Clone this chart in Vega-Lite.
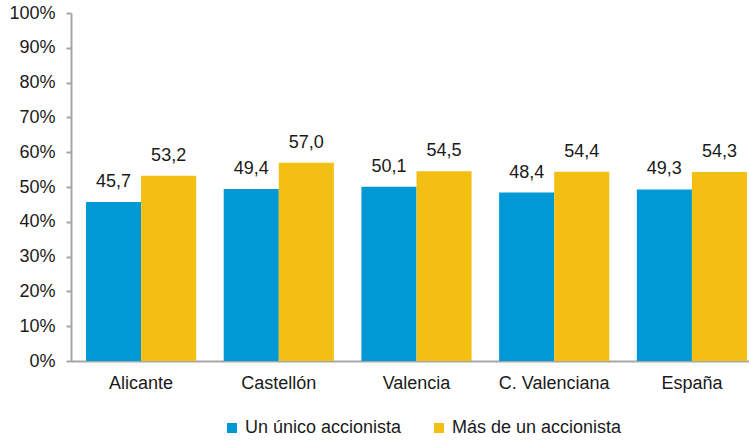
{
  "$schema": "https://vega.github.io/schema/vega-lite/v6.json",
  "width": 678,
  "height": 348,
  "autosize": {"type": "none"},
  "padding": {"left": 71, "top": 13, "right": 0, "bottom": 80},
  "config": {
    "locale": {"number": {"decimal": ",", "thousands": ".", "grouping": [3], "currency": ["", " €"]}},
    "view": {"stroke": null},
    "font": "Liberation Sans"
  },
  "data": {
    "values": [
      {"region": "Alicante", "tipo": "Un único accionista", "valor": 45.7},
      {"region": "Alicante", "tipo": "Más de un accionista", "valor": 53.2},
      {"region": "Castellón", "tipo": "Un único accionista", "valor": 49.4},
      {"region": "Castellón", "tipo": "Más de un accionista", "valor": 57.0},
      {"region": "Valencia", "tipo": "Un único accionista", "valor": 50.1},
      {"region": "Valencia", "tipo": "Más de un accionista", "valor": 54.5},
      {"region": "C. Valenciana", "tipo": "Un único accionista", "valor": 48.4},
      {"region": "C. Valenciana", "tipo": "Más de un accionista", "valor": 54.4},
      {"region": "España", "tipo": "Un único accionista", "valor": 49.3},
      {"region": "España", "tipo": "Más de un accionista", "valor": 54.3}
    ]
  },
  "encoding": {
    "x": {
      "field": "region", "type": "nominal", "sort": null,
      "scale": {"paddingInner": 0.2, "paddingOuter": 0.109, "range": [0, 691]},
      "axis": {"title": null, "labelAngle": 0, "ticks": false, "domainColor": "#A6A6A6", "domainWidth": 2,
               "labelFontSize": 18, "labelColor": "#1a1a1a", "labelPadding": 13}
    },
    "xOffset": {"field": "tipo", "type": "nominal", "sort": ["Un único accionista", "Más de un accionista"], "scale": {"paddingInner": 0, "paddingOuter": 0}},
    "y": {
      "field": "valor", "type": "quantitative", "scale": {"domain": [0, 100]},
      "axis": {"title": null, "values": [0, 10, 20, 30, 40, 50, 60, 70, 80, 90, 100], "labelExpr": "datum.value + '%'",
               "grid": false, "domainColor": "#A6A6A6", "domainWidth": 2, "tickColor": "#A6A6A6", "tickWidth": 2, "tickSize": 5,
               "labelPadding": 11, "labelFontSize": 18, "labelColor": "#1a1a1a"}
    }
  },
  "layer": [
    {
      "mark": {"type": "bar"},
      "encoding": {
        "color": {
          "field": "tipo", "type": "nominal",
          "scale": {"domain": ["Un único accionista", "Más de un accionista"], "range": ["#0099D6", "#F2BF12"]},
          "legend": {"title": null, "orient": "none", "direction": "horizontal", "legendX": 152, "legendY": 406,
                     "symbolType": "square", "symbolSize": 100, "symbolStrokeWidth": 0, "labelFontSize": 18,
                     "labelColor": "#1a1a1a", "labelOffset": 4, "columnPadding": 28, "padding": 0, "labelLimit": 300}
        }
      }
    },
    {
      "mark": {"type": "text", "baseline": "alphabetic", "dy": -15, "fontSize": 18, "color": "#1a1a1a"},
      "encoding": {"text": {"field": "valor", "type": "quantitative", "format": ".1f"}}
    }
  ]
}
